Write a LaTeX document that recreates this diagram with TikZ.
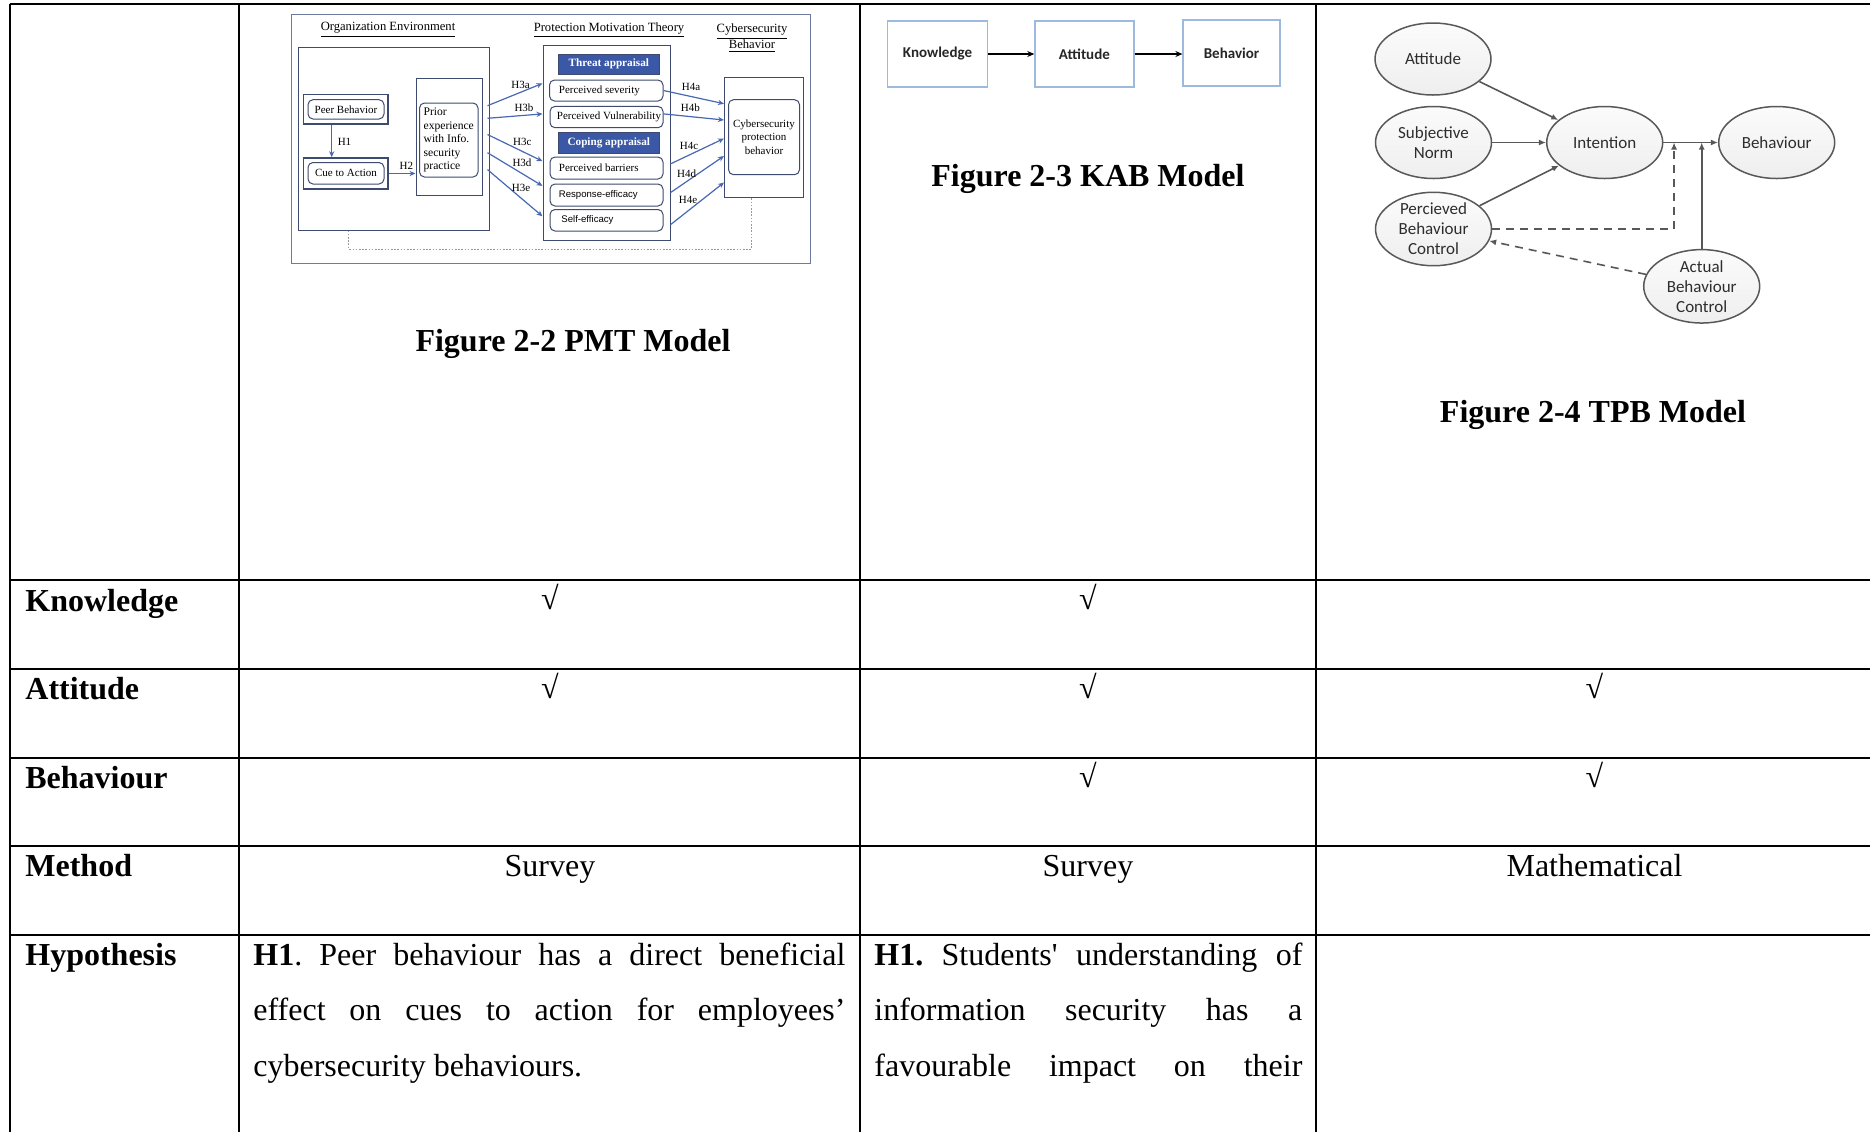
\documentclass[tikz,border=0pt]{standalone}
\usepackage{fontspec}
\setmainfont{Liberation Serif}
\newfontfamily\rawserif{Liberation Serif}
\newfontfamily\calfont{Carlito}
\newfontfamily\arialfont{Liberation Sans}
\usetikzlibrary{arrows.meta,shapes.geometric,fit,calc}
\definecolor{pmtline}{RGB}{62,74,112}
\definecolor{pmtframe}{RGB}{110,122,160}
\definecolor{pmtarrow}{RGB}{72,104,180}
\definecolor{pmtfill}{RGB}{58,88,166}
\definecolor{kabline}{RGB}{157,185,221}
\definecolor{tpbline}{RGB}{88,88,88}
\definecolor{tpbtext}{RGB}{45,45,45}
\frenchspacing
\begin{document}
\begin{tikzpicture}[x=0.5pt,y=-0.5pt,
  grid/.style={line width=1pt,black},
  rowlabel/.style={anchor=base west,inner sep=0,font=\bfseries\fontsize{16}{19}\selectfont},
  celltext/.style={anchor=base west,inner sep=0,font=\fontsize{16}{19}\selectfont},
  centertext/.style={anchor=base,inner sep=0,font=\fontsize{16}{19}\selectfont},
  tick/.style={inner sep=0,font=\fontsize{16}{19}\selectfont},
  caption/.style={anchor=base,inner sep=0,font=\bfseries\fontsize{16}{19}\selectfont},
  pbox/.style={draw=pmtline,line width=0.5pt,inner sep=0},
  pouter/.style={draw=pmtline,line width=0.8pt,inner sep=0},
  pround/.style={draw=pmtline,line width=0.5pt,inner sep=0,rounded corners=2.5pt},
  ptext/.style={inner sep=0,font=\fontsize{5.5}{6.75}\selectfont},
  psans/.style={inner sep=0,font=\arialfont\fontsize{4.8}{6}\selectfont},
  phead/.style={fill=pmtfill,draw=pmtline,line width=0.4pt,inner sep=0,text=white,
    font=\bfseries\fontsize{5.6}{6.5}\selectfont},
  parr/.style={draw=pmtarrow,line width=0.6pt,-{Stealth[length=3pt,width=2.6pt]}},
  pdot/.style={draw=gray!80,line width=0.3pt,dash pattern=on 0.8pt off 0.8pt},
  hlab/.style={inner sep=0,font=\fontsize{5.5}{6.5}\selectfont},
  ptitle/.style={inner sep=0,align=center,font=\fontsize{6.3}{8}\selectfont},
  kbox/.style={draw=kabline,line width=0.6pt,minimum height=33pt,inner sep=0,
    text=black!85,font=\calfont\bfseries\fontsize{7.5}{9}\selectfont},
  karr/.style={line width=1pt,-{Stealth[length=3.5pt,width=3pt]}},
  tnode/.style={ellipse,draw=tpbline,line width=0.75pt,top color=gray!3,bottom color=gray!13,
    minimum width=58pt,minimum height=36pt,inner sep=0,align=center,text=tpbtext,
    font=\calfont\fontsize{8.5}{10}\selectfont},
  tarr/.style={draw=tpbline,line width=0.8pt,-{Latex[length=3.5pt,width=3pt]}},
  tdash/.style={tarr,dash pattern=on 4pt off 3pt}]

\useasboundingbox (0,0) rectangle (1870,1131);
\fill[white] (0,0) rectangle (1870,1131);
\clip (0,0) rectangle (1870,1131);

% ---------- table rules ----------
\foreach \yy in {4,580,669,758,846,935}
  \draw[grid] (9.5,\yy) -- (1880,\yy);
\foreach \xx in {10,239,860,1316}
  \draw[grid] (\xx,3.5) -- (\xx,1140);

% ---------- PMT model ----------
\node[pbox,draw=pmtframe,fit={(291,14) (810,263)}] (pframe) {};
\node[ptitle] (tOrg) at (388,30) {\underline{Organization Environment}};
\node[ptitle] (tPmt) at (609,30) {\underline{Protection Motivation Theory}};
\node[ptitle] (tCyb) at (752,38.3) {\underline{Cybersecurity}\\\underline{Behavior}};

\node[pbox,fit={(298.5,47) (489.5,230)}] (org) {};
\node[pouter,fit={(303.6,94.6) (388,124)}] (peerO) {};
\node[pround,fit={(308,99.7) (384,119)}] (peerI) {};
\node[ptext] (peerT) at (peerI) {Peer Behavior};
\node[pouter,fit={(303.6,158) (388,189)}] (cueO) {};
\node[pround,fit={(308,162.5) (384,184)}] (cueI) {};
\node[ptext] (cueT) at (cueI) {Cue to Action};
\node[pbox,fit={(416,78.7) (482,195)}] (priorO) {};
\node[pround,fit={(419.5,103) (478,177)}] (priorI) {};
\node[ptext,align=left,font=\fontsize{5.8}{6.75}\selectfont] (priorT) at (priorI)
  {Prior\\experience\\with Info.\\security\\practice};

\node[pbox,fit={(543,45.6) (670,240.6)}] (pmt) {};
\node[phead,fit={(558,54) (659.6,74)}] (threat) {};
\node[phead,fill=none,draw=none,text=white] (threatT) at (threat) {Threat appraisal};
\node[pround,fit={(549.5,80) (663,101)}] (sev) {};
\node[ptext,anchor=west] (sevT) at (558.5,90.5) {Perceived severity};
\node[pround,fit={(550,106.4) (663,127.7)}] (vul) {};
\node[ptext,anchor=west] (vulT) at (556.5,117) {Perceived Vulnerability};
\node[phead,fit={(558,132.8) (659.6,153)}] (coping) {};
\node[phead,fill=none,draw=none,text=white] (copingT) at (coping) {Coping appraisal};
\node[pround,fit={(550,157) (663,179)}] (bar) {};
\node[ptext,anchor=west] (barT) at (558.5,168) {Perceived barriers};
\node[pround,fit={(550,184) (663,206)}] (resp) {};
\node[psans,anchor=west] (respT) at (558.5,195) {Response-efficacy};
\node[pround,fit={(550,209.5) (663,231)}] (selfe) {};
\node[psans,anchor=west] (selfT) at (561,220) {Self-efficacy};

\node[pbox,fit={(724.5,77.7) (803,197)}] (cybO) {};
\node[pround,fit={(728.5,99.7) (799.5,174.7)}] (cybI) {};
\node[ptext,align=center] (cybT) at (cybI) {Cybersecurity\\protection\\behavior};

% organisation environment links
\draw[parr] (peerO.south -| 331.7,0) -- (cueO.north -| 331.7,0);
\node[hlab] (lH1) at (344.5,142) {H1};
\draw[parr] (cueO.east) -- (priorO.west |- cueO.east);
\node[hlab] (lH2) at (406.4,166) {H2};

% prior experience to the appraisal factors
\coordinate (pr3) at ($(priorO.east)+(5,0)$);
\draw[parr] (pr3 |- 0,105.7) -- (pmt.west |- 0,83.4);
\draw[parr] (pr3 |- 0,118.3) -- (pmt.west |- 0,113.9);
\draw[parr] (pr3 |- 0,134.5) -- (pmt.west |- 0,161.2);
\draw[parr] (pr3 |- 0,152.7) -- (pmt.west |- 0,185.9);
\draw[parr] (pr3 |- 0,169.6) -- (pmt.west |- 0,216.3);
\node[hlab] (lH3a) at (520.6,84.8) {H3a};
\node[hlab] (lH3b) at (524,108) {H3b};
\node[hlab] (lH3c) at (522.3,142.3) {H3c};
\node[hlab] (lH3d) at (522,163) {H3d};
\node[hlab] (lH3e) at (521,188.2) {H3e};

% appraisal factors to protection behaviour
\draw[parr] (sev.east) -- (cybO.west |- 0,103.7);
\draw[parr] (vul.east |- 0,113.9) -- (cybO.west |- 0,120);
\draw[parr] (pmt.east |- 0,163.9) -- (cybO.west |- 0,138.5);
\draw[parr] (pmt.east |- 0,192.6) -- (cybO.west |- 0,156);
\draw[parr] (pmt.east |- 0,224.7) -- (cybO.west |- 0,182.5);
\node[hlab] (lH4a) at (691,86.8) {H4a};
\node[hlab] (lH4b) at (690.3,108.1) {H4b};
\node[hlab] (lH4c) at (689,146.3) {H4c};
\node[hlab] (lH4d) at (686.6,173.4) {H4d};
\node[hlab] (lH4e) at (688,200.4) {H4e};

% dotted feedback line
\draw[pdot] (org.south -| 348.6,0) |- (751.5,249) -- (cybO.south -| 751.5,0);

\node[caption] (capPmt) at (573,351.5) {Figure 2-2 PMT Model};

% ---------- KAB model ----------
\node[kbox,minimum width=49.7pt] (kK) at (937.5,54) {Knowledge};
\node[kbox,minimum width=49.5pt] (kA) at (1084.4,54) {Attitude};
\node[kbox,minimum width=48.5pt] (kB) at (1231.5,53) {Behavior};
\draw[karr] (kK.east) -- (kA.west);
\draw[karr] (kA.east) -- (kB.west |- kA.east);
\node[caption] (capKab) at (1088,186) {Figure 2-3 KAB Model};

% ---------- TPB model ----------
\node[tnode] (tAtt) at (1433,59) {Attitude};
\node[tnode] (tSN) at (1433.5,142.5) {Subjective\\Norm};
\node[tnode] (tPBC) at (1433.5,229) {Percieved\\Behaviour\\Control};
\node[tnode] (tInt) at (1604.7,142.5) {Intention};
\node[tnode] (tBeh) at (1776.7,142.5) {Behaviour};
\node[tnode] (tABC) at (1701.7,286.3) {Actual\\Behaviour\\Control};
\draw[tarr] (tAtt) -- (tInt);
\draw[tarr] (tSN) -- (tInt);
\draw[tarr] (tPBC) -- (tInt);
\draw[tarr] (tInt) -- (tBeh);
\coordinate (tJoin) at ($(tInt.east)+(10.6,0)$);
\draw[tdash] (tPBC.east) -| (tJoin);
\draw[tarr] (tABC.north) -- (tABC.north |- tInt.east);
\draw[tdash] (tABC) -- (tPBC);
\node[caption] (capTpb) at (1593,422) {Figure 2-4 TPB Model};

% ---------- table body ----------
\node[rowlabel] (rK) at (25,611) {Knowledge};
\node[rowlabel] (rA) at (25,699.5) {Attitude};
\node[rowlabel] (rB) at (25,788) {Behaviour};
\node[rowlabel] (rM) at (25,876.5) {Method};
\node[rowlabel] (rH) at (25,965) {Hypothesis};

\node[tick] (cK2) at (550,597) {√};
\node[tick] (cK3) at (1088,597) {√};
\node[tick] (cA2) at (550,686) {√};
\node[tick] (cA3) at (1088,686) {√};
\node[tick] (cA4) at (1594.5,686) {√};
\node[tick] (cB3) at (1088,775) {√};
\node[tick] (cB4) at (1594.5,775) {√};

\node[centertext] (m2) at (550,876.5) {Survey};
\node[centertext] (m3) at (1088,876.5) {Survey};
\node[centertext] (m4) at (1594.5,876.5) {Mathematical};

\node[celltext] (hA1) at (253,965) {\makebox[296pt][s]{\textbf{H1}. Peer behaviour has a direct beneficial}};
\node[celltext] (hA2) at (253,1020.5) {\makebox[296pt][s]{effect on cues to action for employees’}};
\node[celltext] (hA3) at (253,1076) {cybersecurity behaviours.};
\node[celltext] (hB1) at (874,965) {\makebox[214pt][s]{\textbf{H1.} Students{\rawserif'} understanding of}};
\node[celltext] (hB2) at (874,1020.5) {\makebox[214pt][s]{information security has a}};
\node[celltext] (hB3) at (874,1076) {\makebox[214pt][s]{favourable impact on their}};
\end{tikzpicture}
\end{document}
